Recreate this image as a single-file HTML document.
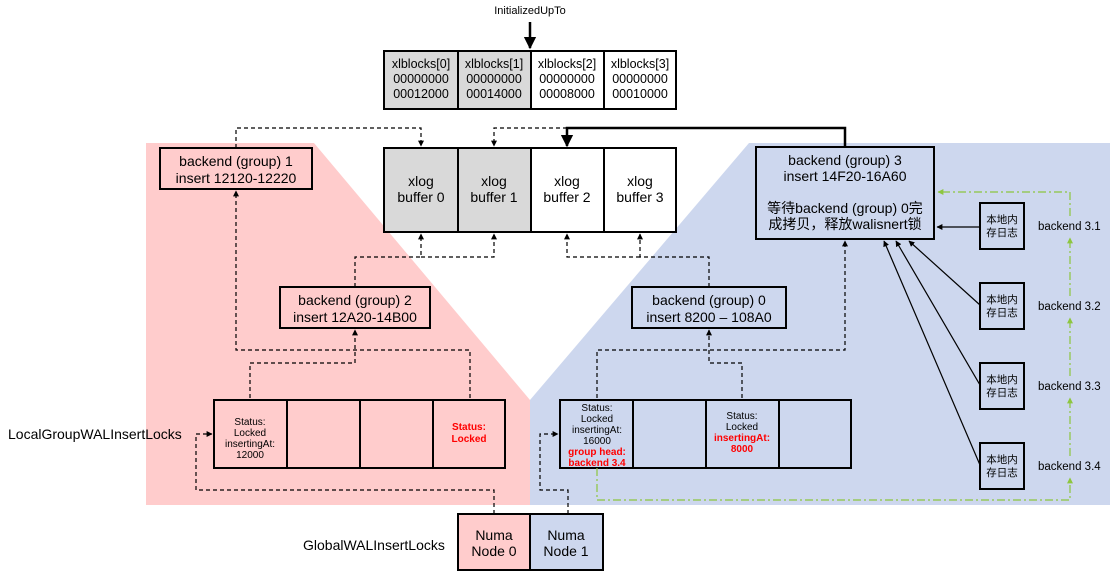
<!DOCTYPE html>
<html><head><meta charset="utf-8"><style>
html,body{margin:0;padding:0;background:#fff;}
svg{display:block;}
text{font-family:"Liberation Sans","Noto Sans CJK SC",sans-serif;fill:#000;}
</style></head><body>
<svg width="1110" height="574" viewBox="0 0 1110 574" xmlns="http://www.w3.org/2000/svg">
<defs>
<marker id="a" viewBox="0 0 10 10" refX="9" refY="5" markerWidth="5" markerHeight="5" orient="auto"><path d="M0,0L10,5L0,10z" fill="#000"/></marker>
<marker id="g" viewBox="0 0 10 10" refX="9" refY="5" markerWidth="5" markerHeight="5" orient="auto"><path d="M0,0L10,5L0,10z" fill="#8dc63f"/></marker>
</defs>
<polygon points="146,143 314,143 530,400 530,505 146,505" fill="#ffcccc"/>
<polygon points="749,143 1110,143 1110,505 530,505 530,400" fill="#cdd7ee"/>

<text x="530" y="14" font-size="11" text-anchor="middle">InitializedUpTo</text>
<line x1="530" y1="22" x2="530" y2="48" stroke="#000" stroke-width="2.5" marker-end="url(#a)"/>

<g stroke="#000" stroke-width="2">
<rect x="384" y="51" width="74" height="58" fill="#d9d9d9"/>
<rect x="458" y="51" width="73" height="58" fill="#d9d9d9"/>
<rect x="531" y="51" width="73" height="58" fill="#fff"/>
<rect x="604" y="51" width="72" height="58" fill="#fff"/>
<rect x="384" y="148" width="74" height="84" fill="#d9d9d9"/>
<rect x="458" y="148" width="73" height="84" fill="#d9d9d9"/>
<rect x="531" y="148" width="73" height="84" fill="#fff"/>
<rect x="604" y="148" width="72" height="84" fill="#fff"/>
<rect x="160" y="148" width="152" height="41" fill="#ffcccc"/>
<rect x="280" y="287" width="150" height="41" fill="#ffcccc"/>
<rect x="632" y="287" width="154" height="41" fill="#cdd7ee"/>
<rect x="756" y="147" width="178" height="92" fill="#cdd7ee"/>
<rect x="214" y="400" width="73" height="68" fill="#ffcccc"/>
<rect x="287" y="400" width="73" height="68" fill="#ffcccc"/>
<rect x="360" y="400" width="73" height="68" fill="#ffcccc"/>
<rect x="433" y="400" width="72" height="68" fill="#ffcccc"/>
<rect x="560" y="400" width="73" height="68" fill="#cdd7ee"/>
<rect x="633" y="400" width="73" height="68" fill="#cdd7ee"/>
<rect x="706" y="400" width="73" height="68" fill="#cdd7ee"/>
<rect x="779" y="400" width="72" height="68" fill="#cdd7ee"/>
<rect x="458" y="514" width="72" height="56" fill="#ffcccc"/>
<rect x="530" y="514" width="73" height="56" fill="#cdd7ee"/>
<rect x="980" y="203" width="44" height="46" fill="#cdd7ee"/>
<rect x="980" y="283" width="44" height="46" fill="#cdd7ee"/>
<rect x="980" y="363" width="44" height="46" fill="#cdd7ee"/>
<rect x="980" y="443" width="44" height="46" fill="#cdd7ee"/>
</g>

<g font-size="12.5" text-anchor="middle">
<text x="421" y="68">xlblocks[0]</text><text x="421" y="83">00000000</text><text x="421" y="98">00012000</text>
<text x="494" y="68">xlblocks[1]</text><text x="494" y="83">00000000</text><text x="494" y="98">00014000</text>
<text x="567" y="68">xlblocks[2]</text><text x="567" y="83">00000000</text><text x="567" y="98">00008000</text>
<text x="640" y="68">xlblocks[3]</text><text x="640" y="83">00000000</text><text x="640" y="98">00010000</text>
</g>
<g font-size="14" text-anchor="middle">
<text x="421" y="186">xlog</text><text x="421" y="202">buffer 0</text>
<text x="494" y="186">xlog</text><text x="494" y="202">buffer 1</text>
<text x="567" y="186">xlog</text><text x="567" y="202">buffer 2</text>
<text x="640" y="186">xlog</text><text x="640" y="202">buffer 3</text>
<text x="236" y="166">backend (group) 1</text><text x="236" y="183">insert 12120-12220</text>
<text x="355" y="305">backend (group) 2</text><text x="355" y="322">insert 12A20-14B00</text>
<text x="709" y="305">backend (group) 0</text><text x="709" y="322">insert 8200 – 108A0</text>
<text x="845" y="165">backend (group) 3</text><text x="845" y="181">insert 14F20-16A60</text>
<text x="845" y="213">等待backend (group) 0完</text><text x="845" y="229">成拷贝，释放walisnert锁</text>
<text x="494" y="540">Numa</text><text x="494" y="556">Node 0</text>
<text x="566" y="540">Numa</text><text x="566" y="556">Node 1</text>
</g>
<text x="8" y="439" font-size="14">LocalGroupWALInsertLocks</text>
<text x="303" y="550" font-size="14">GlobalWALInsertLocks</text>

<g font-size="10" text-anchor="middle">
<text x="250" y="425">Status:</text><text x="250" y="436">Locked</text><text x="250" y="447">insertingAt:</text><text x="250" y="458">12000</text>
<text x="469" y="430" fill="#ff0000" style="fill:#f00" font-weight="bold">Status:</text><text x="469" y="442" style="fill:#f00" font-weight="bold">Locked</text>
<text x="597" y="411">Status:</text><text x="597" y="422">Locked</text><text x="597" y="433">insertingAt:</text><text x="597" y="444">16000</text>
<text x="597" y="455" style="fill:#f00" font-weight="bold">group head:</text><text x="597" y="466" style="fill:#f00" font-weight="bold">backend 3.4</text>
<text x="742" y="419">Status:</text><text x="742" y="430">Locked</text>
<text x="742" y="441" style="fill:#f00" font-weight="bold">insertingAt:</text><text x="742" y="452" style="fill:#f00" font-weight="bold">8000</text>
</g>
<g font-size="10.5" text-anchor="middle">
<text x="1002" y="223">本地内</text><text x="1002" y="236">存日志</text>
<text x="1002" y="303">本地内</text><text x="1002" y="316">存日志</text>
<text x="1002" y="383">本地内</text><text x="1002" y="396">存日志</text>
<text x="1002" y="463">本地内</text><text x="1002" y="476">存日志</text>
</g>
<g font-size="11.5">
<text x="1038" y="230">backend 3.1</text>
<text x="1038" y="310">backend 3.2</text>
<text x="1038" y="390">backend 3.3</text>
<text x="1038" y="470">backend 3.4</text>
</g>

<!-- solid thick -->
<polyline points="845,147 845,128 567,128 567,146" fill="none" stroke="#000" stroke-width="2.5" marker-end="url(#a)"/>

<g fill="none" stroke="#000" stroke-width="1.2" stroke-dasharray="4,3">
<polyline points="236,148 236,128 421,128 421,146" marker-end="url(#a)"/>
<polyline points="567,128 494,128 494,146" marker-end="url(#a)"/>
<polyline points="355,287 355,257 421,257 421,234" marker-end="url(#a)"/>
<polyline points="421,257 494,257 494,234" marker-end="url(#a)"/>
<polyline points="709,287 709,257 640,257 640,234" marker-end="url(#a)"/>
<polyline points="640,257 567,257 567,234" marker-end="url(#a)"/>
<polyline points="470,398 470,350 236,350 236,191" marker-end="url(#a)"/>
<polyline points="250,398 250,363 355,363 355,330" marker-end="url(#a)"/>
<polyline points="597,398 597,350 845,350 845,241" marker-end="url(#a)"/>
<polyline points="742,398 742,363 709,363 709,330" marker-end="url(#a)"/>
<polyline points="494,514 494,490 196,490 196,434 212,434" marker-end="url(#a)"/>
<polyline points="568,514 568,490 540,490 540,434 558,434" marker-end="url(#a)"/>
</g>

<g fill="none" stroke="#8dc63f" stroke-width="1.2" stroke-dasharray="8,3,2,3">
<polyline points="597,468 597,500 1070,500 1070,478" marker-end="url(#g)"/>
<polyline points="1070,456 1070,398" marker-end="url(#g)"/>
<polyline points="1070,376 1070,318" marker-end="url(#g)"/>
<polyline points="1070,296 1070,238" marker-end="url(#g)"/>
<polyline points="1070,216 1070,192 938,192" marker-end="url(#g)"/>
</g>

<g stroke="#000" stroke-width="1.2">
<line x1="980" y1="227" x2="937" y2="227" marker-end="url(#a)"/>
<line x1="980" y1="305" x2="909" y2="241" marker-end="url(#a)"/>
<line x1="980" y1="385" x2="896" y2="241" marker-end="url(#a)"/>
<line x1="980" y1="465" x2="884" y2="241" marker-end="url(#a)"/>
</g>
</svg>
</body></html>
